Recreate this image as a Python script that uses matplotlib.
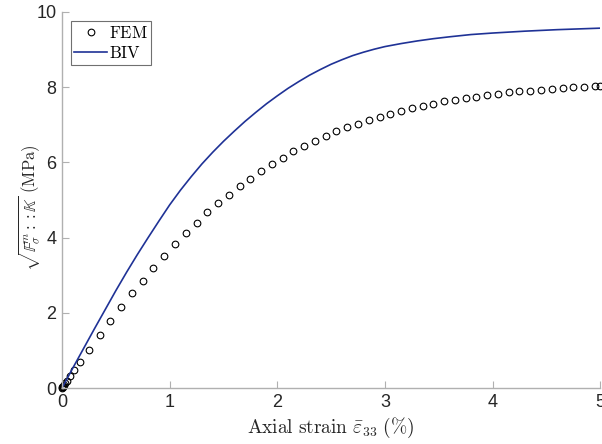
import numpy as np
import matplotlib
matplotlib.use("Agg")
from matplotlib import pyplot as plt

plt.rcParams['mathtext.fontset'] = 'cm'

# FEM points (axial strain in %, stress measure in MPa)
fem_x = [0.0, 0.004, 0.008, 0.013, 0.02, 0.029, 0.044, 0.074, 0.112, 0.167, 0.25,
         0.35, 0.45, 0.55, 0.65, 0.75, 0.85, 0.95, 1.05, 1.15, 1.25,
         1.35, 1.45, 1.55, 1.65, 1.75, 1.85, 1.95, 2.05, 2.15, 2.25,
         2.35, 2.45, 2.55, 2.65, 2.75, 2.85, 2.95, 3.05, 3.15, 3.25,
         3.35, 3.45, 3.55, 3.65, 3.75, 3.85, 3.95, 4.05, 4.15, 4.25,
         4.35, 4.45, 4.55, 4.65, 4.75, 4.85, 4.95, 5.0]
fem_y = [0.0, 0.017, 0.034, 0.055, 0.085, 0.125, 0.19, 0.32, 0.47, 0.69, 1.02,
         1.40, 1.79, 2.15, 2.52, 2.86, 3.20, 3.52, 3.83, 4.11, 4.40,
         4.67, 4.91, 5.14, 5.36, 5.57, 5.77, 5.96, 6.13, 6.30, 6.44,
         6.58, 6.70, 6.83, 6.93, 7.03, 7.13, 7.22, 7.30, 7.37, 7.44,
         7.50, 7.56, 7.62, 7.66, 7.70, 7.74, 7.79, 7.82, 7.86, 7.89,
         7.91, 7.93, 7.95, 7.98, 8.00, 8.01, 8.03, 8.03]

# BIV curve
biv_x = [0.0, 0.1, 0.2, 0.3, 0.4, 0.5, 0.6, 0.7, 0.8, 0.9, 1.0, 1.1, 1.2, 1.3,
         1.4, 1.5, 1.6, 1.7, 1.8, 1.9, 2.0, 2.1, 2.2, 2.3, 2.4, 2.5, 2.6, 2.7,
         2.8, 2.9, 3.0, 3.15, 3.3, 3.45, 3.6, 3.8, 4.0, 4.3, 4.6, 5.0]
biv_y = [0.0, 0.53, 1.05, 1.57, 2.08, 2.59, 3.08, 3.55, 4.0, 4.44, 4.87, 5.26,
         5.62, 5.96, 6.27, 6.56, 6.83, 7.09, 7.33, 7.56, 7.77, 7.97, 8.15,
         8.32, 8.47, 8.61, 8.73, 8.84, 8.93, 9.01, 9.08, 9.16, 9.23, 9.29,
         9.34, 9.40, 9.44, 9.49, 9.53, 9.57]

fig = plt.figure(figsize=(6.02, 4.44), dpi=100)
ax = fig.add_axes([0.103, 0.126, 0.894, 0.847])

ax.plot(fem_x, fem_y, 'o', mfc='none', mec='black', ms=4.8, mew=0.8,
        label=r'$\mathrm{FEM}$', clip_on=False)
ax.plot(biv_x, biv_y, '-', color='#1f3296', lw=1.2, label=r'$\mathrm{BIV}$')

ax.set_xlim(0, 5)
ax.set_ylim(0, 10)
ax.set_xticks([0, 1, 2, 3, 4, 5])
ax.set_yticks([0, 2, 4, 6, 8, 10])

for s in ['top', 'right']:
    ax.spines[s].set_visible(False)
for s in ['left', 'bottom']:
    ax.spines[s].set_color('#b0b0b0')
    ax.spines[s].set_linewidth(1.0)
ax.tick_params(direction='in', length=5, width=0.8, color='#b0b0b0',
               labelsize=13, labelcolor='#262626', pad=4)
for lab in ax.get_xticklabels() + ax.get_yticklabels():
    lab.set_fontfamily('Liberation Sans')

ax.set_xlabel(r'$\mathrm{Axial\ strain}\ \bar{\varepsilon}_{33}\ (\%)$',
              fontsize=14, color='#262626')
ax.set_ylabel(r'$\sqrt{\mathbb{F}^m_\sigma :: \mathbb{K}}\ \mathrm{(MPa)}$',
              fontsize=12, color='#262626')
ax.xaxis.set_label_coords(0.5, -0.075)
ax.yaxis.set_label_coords(-0.035, 0.48)

leg = ax.legend(loc='upper left', bbox_to_anchor=(0.01, 0.985), fancybox=False,
                framealpha=1, edgecolor='#707070', fontsize=12,
                handlelength=2.0, handletextpad=0.1, borderpad=0.2, labelspacing=0.1,
                borderaxespad=0.2)
leg.get_frame().set_linewidth(0.8)

fig.savefig('out.png', dpi=100)
